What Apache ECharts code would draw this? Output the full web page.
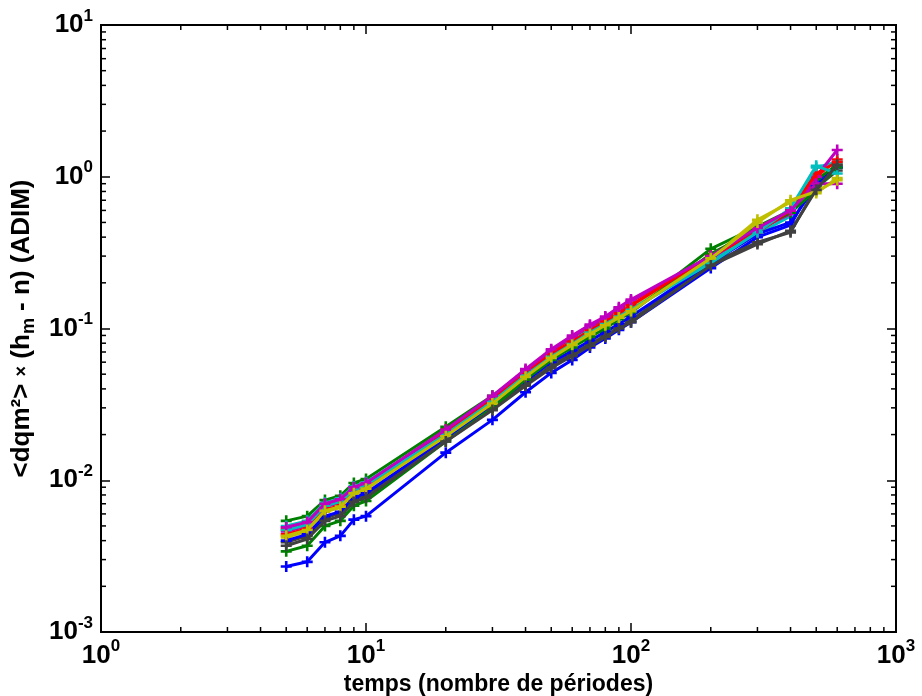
<!DOCTYPE html>
<html><head><meta charset="utf-8">
<script src="https://cdn.jsdelivr.net/npm/echarts@6/dist/echarts.min.js"></script>
<style>html,body{margin:0;padding:0;background:#fff}#c{width:922px;height:696px}</style>
</head><body><div id="c"></div>
<script>
var times = [5,6,7,8,9,10,20,30,40,50,60,70,80,90,100,200,300,400,500,600];
var colors = ['#0000ff','#008000','#ff0000','#00bfbf','#bf00bf','#bfbf00','#404040'];
var s1 = [0.0027,0.0029,0.0039,0.0043,0.0055,0.0058,0.0152,0.025,0.038,0.051,0.062,0.075,0.086,0.098,0.11,0.25,0.40,0.48,0.95,1.15];
var s2 = [0.0054,0.0058,0.0074,0.0079,0.0096,0.0102,0.0225,0.036,0.052,0.068,0.080,0.094,0.107,0.12,0.132,0.335,0.47,0.60,0.95,1.20];
var s3 = [0.0048,0.0052,0.0069,0.0073,0.0088,0.0094,0.0215,0.035,0.052,0.070,0.084,0.100,0.114,0.13,0.150,0.30,0.44,0.58,1.00,1.30];
var s4 = [0.0050,0.0054,0.0071,0.0076,0.0091,0.0097,0.0210,0.034,0.050,0.067,0.083,0.098,0.110,0.123,0.138,0.28,0.42,0.55,1.15,1.25];
var s5 = [0.0046,0.0050,0.0067,0.0071,0.0086,0.0092,0.0205,0.035,0.053,0.072,0.088,0.104,0.118,0.135,0.152,0.29,0.45,0.57,1.00,1.50];
var s6 = [0.0042,0.0046,0.0062,0.0066,0.0081,0.0087,0.0200,0.033,0.049,0.066,0.080,0.096,0.110,0.125,0.140,0.29,0.52,0.68,0.78,0.98];
var s7 = [0.0039,0.0043,0.0056,0.0061,0.0075,0.0080,0.0185,0.030,0.043,0.057,0.068,0.079,0.090,0.102,0.113,0.27,0.37,0.43,0.85,1.10];
var s8 = [0.0040,0.0044,0.0058,0.0062,0.0077,0.0082,0.0190,0.031,0.045,0.060,0.071,0.083,0.095,0.107,0.120,0.27,0.42,0.50,0.88,1.15];
var s9 = [0.0034,0.0037,0.0050,0.0054,0.0068,0.0073,0.0180,0.030,0.046,0.062,0.075,0.088,0.100,0.115,0.128,0.31,0.45,0.58,0.82,1.15];
var s10 = [0.0044,0.0048,0.0064,0.0068,0.0083,0.0089,0.0205,0.034,0.050,0.068,0.082,0.097,0.111,0.126,0.142,0.30,0.43,0.60,1.05,1.25];
var s11 = [0.0047,0.0051,0.0068,0.0072,0.0087,0.0093,0.0200,0.033,0.049,0.065,0.079,0.094,0.107,0.120,0.133,0.27,0.43,0.62,1.18,1.05];
var s12 = [0.0049,0.0053,0.0070,0.0075,0.0090,0.0096,0.0215,0.036,0.054,0.073,0.090,0.106,0.120,0.138,0.155,0.30,0.46,0.60,0.90,0.90];
var s13 = [0.0043,0.0047,0.0063,0.0067,0.0082,0.0088,0.0195,0.032,0.048,0.064,0.078,0.092,0.105,0.118,0.130,0.29,0.50,0.70,0.80,0.95];
var s14 = [0.0037,0.0041,0.0054,0.0058,0.0072,0.0077,0.0180,0.029,0.042,0.055,0.066,0.077,0.088,0.100,0.110,0.26,0.36,0.44,0.82,1.20];
var allSeries = [s1,s2,s3,s4,s5,s6,s7,s8,s9,s10,s11,s12,s13,s14];

var FONT = 'Liberation Sans';
function expLabel(v){
  var e = Math.round(Math.log10(v));
  return '{b|10}{s|' + e + '}';
}
var richLab = {
  b:{fontFamily:FONT,fontWeight:'bold',fontSize:26,color:'#000'},
  s:{fontFamily:FONT,fontWeight:'bold',fontSize:17,color:'#000',padding:[0,0,18,0]}
};

var chart = echarts.init(document.getElementById('c'));
var series = allSeries.map(function(arr,i){
  return {
    type:'line', xAxisIndex:0, yAxisIndex:0,
    data: times.map(function(t,j){return [t,arr[j]];}),
    symbol:'path://M0,5L10,5M5,0L5,10', symbolSize:11, showSymbol:true,
    lineStyle:{color:colors[i%7],width:3},
    itemStyle:{color:colors[i%7],borderColor:colors[i%7],borderWidth:2.6},
    animation:false, z:3+i
  };
});
// minor ticks drawn through the axes' scales
series.push({
  type:'custom', xAxisIndex:0, yAxisIndex:0, data:[[1,1]], z:20, silent:true, animation:false,
  renderItem:function(params, api){
    var cs = params.coordSys;
    var L = cs.x, R = cs.x+cs.width, T = cs.y, B = cs.y+cs.height;
    var ch = [];
    var st = {stroke:'#000', lineWidth:1.5};
    function line(x1,y1,x2,y2){ch.push({type:'line',shape:{x1:x1,y1:y1,x2:x2,y2:y2},style:st});}
    for (var d=1; d<1000; d*=10){
      for (var k=2;k<=9;k++){
        var px = api.coord([d*k,1])[0];
        line(px,B,px,B-5); line(px,T,px,T+5);
      }
    }
    for (var d2=0.001; d2<9; d2*=10){
      for (var k2=2;k2<=9;k2++){
        var py = api.coord([1,d2*k2])[1];
        line(L,py,L+5,py); line(R,py,R-5,py);
      }
    }
    return {type:'group',children:ch};
  }
});

chart.setOption({
  backgroundColor:'#fff',
  animation:false,
  grid:{left:101,right:26,top:25,bottom:64,containLabel:false,outerBoundsMode:'none',show:true,borderColor:'#000',borderWidth:2,backgroundColor:'transparent'},
  xAxis:[{
    type:'log', logBase:10, min:1, max:1000,
    axisLine:{show:true,onZero:false,lineStyle:{color:'#000',width:2}},
    axisTick:{show:true,inside:true,length:9,lineStyle:{color:'#000',width:1.5}},
    splitLine:{show:false}, minorTick:{show:false},
    axisLabel:{formatter:expLabel,rich:richLab,margin:6},
    name:'temps (nombre de périodes)', nameLocation:'middle', nameGap:38,
    nameTextStyle:{fontFamily:FONT,fontWeight:'bold',fontSize:23,color:'#000'}
  },{
    type:'log', logBase:10, min:1, max:1000, position:'top',
    axisLine:{show:true,onZero:false,lineStyle:{color:'#000',width:2}},
    axisTick:{show:true,inside:true,length:9,lineStyle:{color:'#000',width:1.5}},
    axisLabel:{show:false}, splitLine:{show:false}
  }],
  yAxis:[{
    type:'log', logBase:10, min:0.001, max:10,
    axisLine:{show:true,onZero:false,lineStyle:{color:'#000',width:2}},
    axisTick:{show:true,inside:true,length:9,lineStyle:{color:'#000',width:1.5}},
    splitLine:{show:false},
    axisLabel:{formatter:expLabel,rich:richLab,margin:8},
    name:'<dqm²> {x|×} (h{sub|m} - n) (ADIM)', nameLocation:'middle', nameGap:62, nameRotate:90,
    nameTextStyle:{fontFamily:FONT,fontWeight:'bold',fontSize:26,color:'#000',
      rich:{x:{fontFamily:FONT,fontSize:18,color:'#000'},sub:{fontFamily:FONT,fontWeight:'bold',fontSize:18,color:'#000',padding:[14,0,0,0]}}}
  },{
    type:'log', logBase:10, min:0.001, max:10, position:'right',
    axisLine:{show:true,onZero:false,lineStyle:{color:'#000',width:2}},
    axisTick:{show:true,inside:true,length:9,lineStyle:{color:'#000',width:1.5}},
    axisLabel:{show:false}, splitLine:{show:false}
  }],
  series:series
});
</script></body></html>
